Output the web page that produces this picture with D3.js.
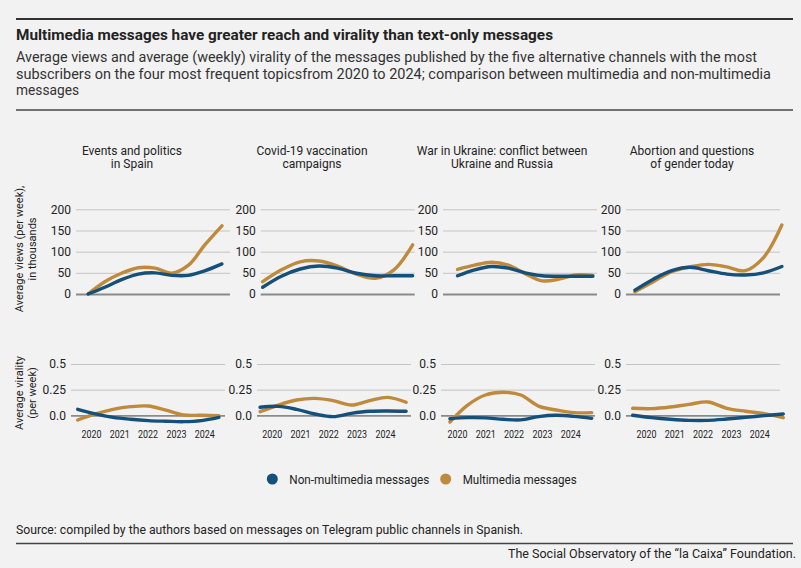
<!DOCTYPE html>
<html>
<head>
<meta charset="utf-8">
<script src="https://cdn.jsdelivr.net/npm/d3@7"></script>
<style>
  html, body { margin: 0; padding: 0; background: #f2f2f2; }
  svg { display: block; font-family: Roboto, "Noto Sans", sans-serif; }
</style>
</head>
<body>
<div id="chart"></div>
<script>
// Topics (panel titles, two lines each)
var topics = [
  ["Events and politics", "in Spain"],
  ["Covid-19 vaccination", "campaigns"],
  ["War in Ukraine: conflict between", "Ukraine and Russia"],
  ["Abortion and questions", "of gender today"]
];
var seriesNames = ["Non-multimedia messages", "Multimedia messages"];
var yearTicks = [2020, 2021, 2022, 2023, 2024];
var viewsTicks = [0, 50, 100, 150, 200];
var viralityTicks = [0, 0.25, 0.5];

// Average views (thousands), evenly spaced samples between the span years
var viewsSpan = [[2019.72, 2024.45], [2019.55, 2024.85], [2019.95, 2024.73], [2019.61, 2024.8]];
var viewsNonMultimedia = [
  [0, 16, 34, 47, 50, 44, 44, 55, 71],
  [16, 42, 59, 66, 61, 49, 43, 43, 43],
  [43, 57, 65, 61, 50, 43, 42, 42, 42],
  [9, 35, 55, 63, 55, 47, 45, 50, 65]
];
var viewsMultimedia = [
  [0, 29, 49, 62, 61, 49, 68, 117, 161],
  [29, 57, 76, 78, 66, 47, 37, 57, 116],
  [58, 68, 75, 68, 48, 31, 35, 45, 44],
  [5, 29, 53, 64, 70, 64, 55, 86, 163]
];

// Average virality (per week)
var viralitySpan = [[2019.53, 2024.52], [2019.59, 2024.75], [2019.75, 2024.76], [2019.53, 2024.85]];
var viralityNonMultimedia = [
  [0.058, 0.013, -0.02, -0.039, -0.052, -0.058, -0.062, -0.052, -0.02],
  [0.078, 0.087, 0.058, 0.013, -0.013, 0.019, 0.039, 0.042, 0.039],
  [-0.033, -0.023, -0.025, -0.039, -0.045, -0.013, 0, -0.01, -0.03],
  [0, -0.023, -0.039, -0.049, -0.049, -0.036, -0.02, -0.003, 0.013]
];
var viralityMultimedia = [
  [-0.046, 0.013, 0.058, 0.084, 0.09, 0.05, 0.003, 0, -0.005],
  [0.035, 0.1, 0.149, 0.165, 0.143, 0.1, 0.143, 0.175, 0.127],
  [-0.065, 0.1, 0.198, 0.224, 0.198, 0.09, 0.052, 0.026, 0.026],
  [0.068, 0.065, 0.081, 0.107, 0.13, 0.068, 0.039, 0.016, -0.023]
];

var colors = ["#15507b", "#bf8a3b"];
var textColor = "#222";

// Layout
var width = 801, height = 568;
var plotW = 154;
var pxPerYear = 28.3;
var yearOffset = [20, 14.7, 16, 20];          // distance from plot left to the 2020 tick
var viewsLeft = [76, 260.7, 443, 626];
var viralityLeft = [71, 257, 441, 626];
var titleCenter = [132, 312, 502, 692];

var svg = d3.select("#chart")
  .append("svg")
    .attr("width", width)
    .attr("height", height);

function fitText(sel, w) {
  sel.attr("textLength", w).attr("lengthAdjust", "spacingAndGlyphs");
}

// Header
svg.append("line").attr("x1", 16).attr("x2", 793).attr("y1", 19).attr("y2", 19)
  .attr("stroke", "#333").attr("stroke-width", 2);

svg.append("text").attr("x", 16).attr("y", 40)
  .attr("font-size", 15.5).attr("font-weight", 700).attr("fill", textColor)
  .text("Multimedia messages have greater reach and virality than text-only messages")
  .call(fitText, 537);

var subtitle = [
  ["Average views and average (weekly) virality of the messages published by the five alternative channels with the most", 741],
  ["subscribers on the four most frequent topicsfrom 2020 to 2024; comparison between multimedia and non-multimedia", 755],
  ["messages", 63]
];
subtitle.forEach(function(s, i) {
  svg.append("text").attr("x", 16).attr("y", 62 + i * 16.5)
    .attr("font-size", 14).attr("fill", "#333")
    .text(s[0]).call(fitText, s[1]);
});

svg.append("line").attr("x1", 16).attr("x2", 793).attr("y1", 110).attr("y2", 110)
  .attr("stroke", "#444").attr("stroke-width", 1.5);

// Y scales (shared by all panels)
var yViews = d3.scaleLinear().domain([0, 200]).range([294, 209.3]);
var yVir = d3.scaleLinear().domain([0, 0.5]).range([415.3, 364]);

function samples(span, vals) {
  var step = (span[1] - span[0]) / (vals.length - 1);
  return vals.map(function(v, i) { return [span[0] + i * step, v]; });
}

function drawPanel(i, left, y, ticks, fmt, series, span, withYears) {
  var x = d3.scaleLinear()
    .domain([2020 - yearOffset[i] / pxPerYear, 2020 + (plotW - yearOffset[i]) / pxPerYear])
    .range([left, left + plotW]);

  var g = svg.append("g");

  var axis = g.append("g")
    .attr("transform", "translate(" + left + ",0)")
    .call(d3.axisLeft(y).tickValues(ticks).tickSize(-plotW).tickPadding(5).tickFormat(fmt));
  axis.select(".domain").remove();
  axis.selectAll(".tick line")
    .attr("stroke", function(d) { return d === 0 ? "#8a8a8a" : "#c4c4c4"; })
    .attr("stroke-width", function(d) { return d === 0 ? 1.8 : 1; });
  axis.selectAll(".tick text")
    .attr("fill", textColor).attr("font-size", 12)
    .style("font-family", "Roboto, sans-serif");

  if (withYears) {
    var xa = g.append("g")
      .attr("transform", "translate(0," + y(0) + ")")
      .call(d3.axisBottom(x).tickValues(yearTicks).tickSize(0).tickPadding(15).tickFormat(d3.format("d")));
    xa.select(".domain").remove();
    xa.selectAll(".tick text")
      .attr("fill", textColor).attr("font-size", 11)
      .style("font-family", "Roboto, sans-serif")
      .call(fitText, 20);
  }

  var line = d3.line()
    .x(function(d) { return x(d[0]); })
    .y(function(d) { return y(d[1]); })
    .curve(d3.curveCatmullRom.alpha(0.5));

  // multimedia first, non-multimedia on top
  [1, 0].forEach(function(s) {
    g.append("path")
      .datum(samples(span, series[s]))
      .attr("d", line)
      .attr("fill", "none")
      .attr("stroke", colors[s])
      .attr("stroke-width", 3.4)
      .attr("stroke-linecap", "round");
  });
}

var fmtViews = d3.format("d");
var fmtVir = function(d) { return d === 0 ? "0.0" : String(d); };

topics.forEach(function(t, i) {
  // panel title
  t.forEach(function(line, j) {
    svg.append("text")
      .attr("x", titleCenter[i]).attr("y", 154.5 + j * 13.5)
      .attr("text-anchor", "middle").attr("font-size", 12).attr("fill", textColor)
      .text(line);
  });
  drawPanel(i, viewsLeft[i], yViews, viewsTicks, fmtViews,
    [viewsNonMultimedia[i], viewsMultimedia[i]], viewsSpan[i], false);
  drawPanel(i, viralityLeft[i], yVir, viralityTicks, fmtVir,
    [viralityNonMultimedia[i], viralityMultimedia[i]], viralitySpan[i], true);
});

// Y axis titles
function yTitle(lines, cy) {
  lines.forEach(function(l, j) {
    svg.append("text")
      .attr("transform", "translate(" + (23 + j * 13) + "," + cy + ") rotate(-90)")
      .attr("text-anchor", "middle").attr("font-size", 11).attr("fill", textColor)
      .text(l);
  });
}
yTitle(["Average views (per week),", "in thousands"], 249);
yTitle(["Average virality", "(per week)"], 393);

// Legend
var legendX = [272.3, 445.7];
var legendW = [140, 114];
seriesNames.forEach(function(n, i) {
  svg.append("circle").attr("cx", legendX[i]).attr("cy", 479).attr("r", 5.5).attr("fill", colors[i]);
  svg.append("text").attr("x", legendX[i] + 17).attr("y", 483.5)
    .attr("font-size", 12.5).attr("fill", textColor).text(n)
    .call(fitText, legendW[i]);
});

// Footer
svg.append("text").attr("x", 16).attr("y", 534)
  .attr("font-size", 12).attr("fill", textColor)
  .text("Source: compiled by the authors based on messages on Telegram public channels in Spanish.")
  .call(fitText, 507);
svg.append("line").attr("x1", 16).attr("x2", 793).attr("y1", 543.5).attr("y2", 543.5)
  .attr("stroke", "#444").attr("stroke-width", 1.5);
svg.append("text").attr("x", 796).attr("y", 558)
  .attr("text-anchor", "end").attr("font-size", 12).attr("fill", textColor)
  .text("The Social Observatory of the \u201cla Caixa\u201d Foundation.")
  .call(fitText, 288);
</script>
</body>
</html>
